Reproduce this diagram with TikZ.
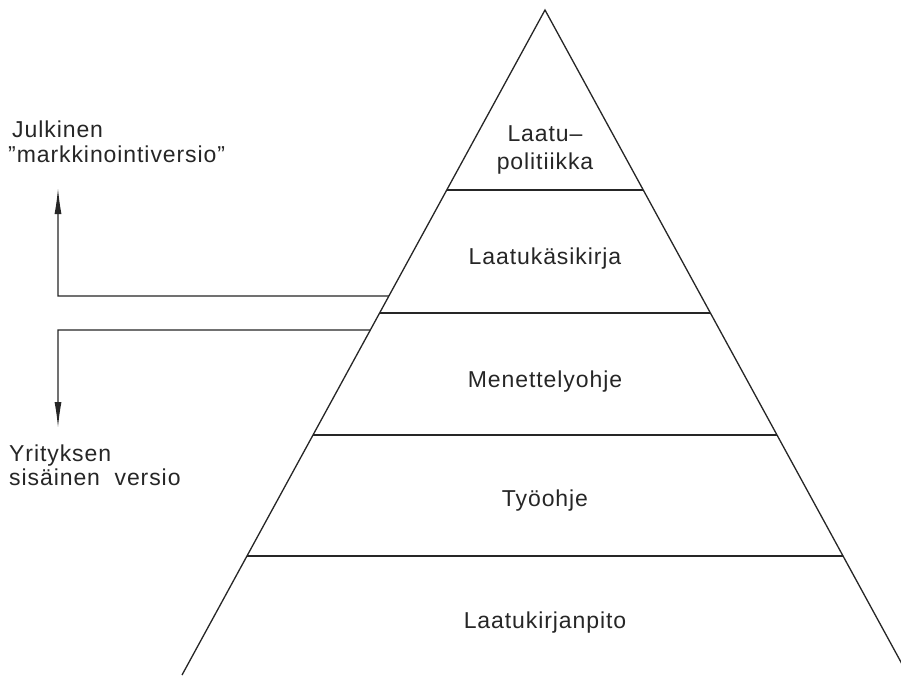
\documentclass[tikz,border=0pt]{standalone}
\usepackage{fontspec}
\setmainfont{Liberation Sans}[LetterSpace=4]
\usetikzlibrary{arrows.meta,calc}
\begin{document}
\begin{tikzpicture}[x=1pt,y=-1pt,
  edge/.style={line width=1.3pt,black!85},
  lbl/.style={anchor=base,inner sep=0pt,font=\fontsize{23}{25}\selectfont,text=black!85},
  side/.style={anchor=base west,inner sep=0pt,font=\fontsize{23}{25}\selectfont,text=black!85},
  conn/.style={line width=1.3pt,black!85},
  arr/.style={conn,-{Latex[length=26pt,width=7pt]}}]
\clip (0,0) rectangle (901,675);
\fill[white] (0,0) rectangle (901,675);
% pyramid
\coordinate (A) at (545,10);
\coordinate (BL) at (182,675);
\coordinate (BR) at (908,675);
\draw[edge] (BL) -- (A) -- (BR);
\foreach \y/\n in {190/1,313/2,435/3,556/4}{
  \pgfmathsetmacro{\t}{(\y-10)/665}
  \coordinate (L\n) at ($(A)!\t!(BL)$);
  \coordinate (R\n) at ($(A)!\t!(BR)$);
  \draw[edge] (L\n) -- (R\n);
}
% tier labels
\node[lbl] (t1a) at (545,141) {Laatu–};
\node[lbl] (t1b) at (545,169) {politiikka};
\node[lbl] (t2) at (545,264) {Laatukäsikirja};
\node[lbl] (t3) at (545,387) {Menettelyohje};
\node[lbl] (t4) at (545,506) {Työohje};
\node[lbl] (t5) at (545,628) {Laatukirjanpito};
% side labels
\node[side] (s1a) at (12,137) {Julkinen};
\node[side] (s1b) at (8,162) {{\char"22}markkinointiversio{\char"22}};
\node[side] (s2a) at (9,461) {Yrityksen};
\node[side] (s2b) at (9,485) {sisäinen\ \ versio};
% connectors
\coordinate (e1) at ($(A)!{(296-10)/665}!(BL)$);
\coordinate (c1) at (58,296);
\coordinate (k1) at (58,188);
\coordinate (e2) at ($(A)!{(330-10)/665}!(BL)$);
\coordinate (c2) at (58,330);
\coordinate (k2) at (58,428);
\draw[arr] (e1) -- (c1) -- (k1);
\draw[arr] (e2) -- (c2) -- (k2);
\end{tikzpicture}
\end{document}
